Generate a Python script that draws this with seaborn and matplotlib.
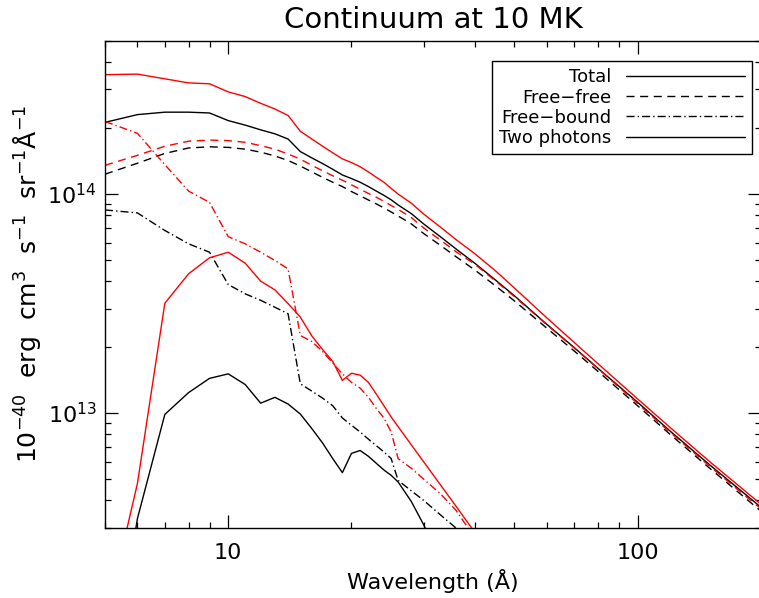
import matplotlib
matplotlib.use("Agg")
import matplotlib.pyplot as plt
import seaborn as sns
import pandas as pd
from matplotlib.lines import Line2D
from matplotlib.ticker import FixedLocator, FuncFormatter, LogLocator, NullFormatter

# ---------------- data (units of 1e13) ----------------
wl_all = [5, 6, 7, 8, 9, 10, 11, 12, 13, 14, 15, 16, 17, 18, 19, 20, 21, 22, 23, 24, 25, 26,
          28, 30, 33, 36, 40, 45, 50, 60, 70, 80, 100, 120, 150, 200]
wl_comp = [5, 6, 7, 8, 9, 10, 11, 12, 13, 14, 15, 16, 17, 18, 19, 20, 21, 22, 23, 24, 25, 26,
           28, 30, 33, 36, 40]

total_black = [21.2, 23.0, 23.6, 23.6, 23.4, 21.6, 20.6, 19.6, 18.8, 17.8, 15.6, 14.6, 13.75, 12.95,
               12.2, 11.75, 11.3, 10.8, 10.3, 9.85, 9.4, 8.9, 8.13, 7.3, 6.37, 5.61, 4.83, 4.04, 3.43,
               2.54, 1.99, 1.60, 1.12, 0.828, 0.58, 0.372]
total_red = [35.0, 35.2, 33.5, 32.1, 31.8, 29.2, 27.8, 25.9, 24.4, 22.8, 19.3, 17.8, 16.5, 15.4,
             14.45, 13.9, 13.3, 12.6, 11.9, 11.3, 10.6, 9.98, 9.07, 8.1, 7.05, 6.19, 5.34, 4.45, 3.72,
             2.72, 2.1, 1.68, 1.16, 0.86, 0.60, 0.384]
ff_black = [12.3, 13.8, 15.3, 16.2, 16.4, 16.3, 16.0, 15.5, 14.9, 14.2, 13.4, 12.6, 11.9, 11.3,
            10.8, 10.25, 9.8, 9.38, 9.0, 8.63, 8.27, 7.93, 7.3, 6.6, 5.82, 5.17, 4.5, 3.8, 3.25,
            2.44, 1.92, 1.55, 1.08, 0.80, 0.56, 0.357]
ff_red = [13.5, 15.0, 16.5, 17.4, 17.6, 17.5, 17.2, 16.6, 16.0, 15.2, 14.4, 13.5, 12.75, 12.1,
          11.55, 11.0, 10.5, 10.05, 9.65, 9.25, 8.85, 8.5, 7.8, 7.0, 6.15, 5.45, 4.78, 4.0, 3.4,
          2.53, 1.98, 1.595, 1.105, 0.818, 0.572, 0.366]
fb_black = [8.45, 8.19, 6.81, 5.92, 5.42, 3.86, 3.50, 3.27, 3.04, 2.84, 1.36, 1.26, 1.17, 1.08,
            0.95, 0.88, 0.82, 0.76, 0.71, 0.665, 0.62, 0.493, 0.442, 0.40, 0.343, 0.299, 0.25]
fb_red = [21.4, 18.9, 13.6, 10.3, 9.15, 6.38, 5.92, 5.42, 4.97, 4.55, 2.26, 2.12, 1.91, 1.69,
          1.51, 1.38, 1.30, 1.18, 1.05, 0.95, 0.82, 0.62, 0.56, 0.50, 0.428, 0.36, 0.27]
tp_black = [0.04, 0.33, 0.986, 1.24, 1.44, 1.51, 1.35, 1.11, 1.18, 1.10, 0.99, 0.85, 0.73, 0.62,
            0.535, 0.655, 0.675, 0.635, 0.59, 0.55, 0.52, 0.485, 0.395, 0.31, 0.21, 0.14, 0.08]
tp_red = [0.11, 0.477, 3.17, 4.32, 5.11, 5.42, 4.83, 4.0, 3.65, 3.16, 2.74, 2.25, 1.95, 1.72,
          1.41, 1.52, 1.49, 1.38, 1.22, 1.08, 0.96, 0.867, 0.716, 0.60, 0.47, 0.376, 0.286]
scale = 1e13

legend_labels = ["Total", "Free\u2212free", "Free\u2212bound", "Two photons"]
title = "Continuum at 10 MK"
xlabel = "Wavelength (Å)"
ylabel = r"10$^{-40}$  erg  cm$^3$  s$^{-1}$  sr$^{-1}$Å$^{-1}$"

# ---------------- style ----------------
sns.set_style("ticks")
plt.rcParams["font.family"] = ["DejaVu Sans"]
plt.rcParams["mathtext.fontset"] = "dejavusans"
plt.rcParams["axes.linewidth"] = 1.0
plt.rcParams["axes.edgecolor"] = "black"
plt.rcParams["axes.labelcolor"] = "black"
plt.rcParams["text.color"] = "black"
plt.rcParams["xtick.color"] = "black"
plt.rcParams["ytick.color"] = "black"
plt.rcParams["xtick.labelcolor"] = "black"
plt.rcParams["ytick.labelcolor"] = "black"

DASH = (0, (5.8, 4.0))
DASHDOT = (0, (5.8, 2.2, 1.0, 2.2))

fig = plt.figure(figsize=(7.59, 5.98), dpi=100)
ax = fig.add_axes([105 / 759, 1 - 527.7 / 598, 655.9 / 759, 487 / 598])

series = [
    (wl_all, total_black, "black", "-"),
    (wl_all, ff_black, "black", DASH),
    (wl_comp, fb_black, "black", DASHDOT),
    (wl_comp, tp_black, "black", "-"),
    (wl_all, total_red, "red", "-"),
    (wl_all, ff_red, "red", DASH),
    (wl_comp, fb_red, "red", DASHDOT),
    (wl_comp, tp_red, "red", "-"),
]
for xs, ys, col, ls in series:
    df = pd.DataFrame({"wl": xs, "val": [v * scale for v in ys]})
    sns.lineplot(data=df, x="wl", y="val", ax=ax, color=col, linestyle=ls,
                 linewidth=1.0, sort=False, estimator=None, legend=False)

ax.set_xscale("log")
ax.set_yscale("log")
ax.set_xlim(5, 200)
ax.set_ylim(3e12, 5e14)

ax.xaxis.set_major_locator(FixedLocator([10, 100]))
ax.xaxis.set_major_formatter(FuncFormatter(lambda v, p: f"{int(round(v))}"))
ax.xaxis.set_minor_locator(LogLocator(base=10, subs=range(2, 10), numticks=20))
ax.xaxis.set_minor_formatter(NullFormatter())
ax.yaxis.set_major_locator(LogLocator(base=10, numticks=10))
ax.yaxis.set_minor_locator(LogLocator(base=10, subs=range(2, 10), numticks=20))
ax.yaxis.set_minor_formatter(NullFormatter())

ax.tick_params(which="both", direction="in", top=True, right=True, width=0.9, labelsize=16)
ax.tick_params(which="major", length=9.4)
ax.tick_params(which="minor", length=4.3)
ax.tick_params(axis="x", which="major", pad=11)
ax.tick_params(axis="y", which="major", pad=6)

ax.set_title(title, fontsize=21, pad=9, color="black")
ax.set_xlabel(xlabel, fontsize=16, labelpad=4)
ax.set_ylabel(ylabel, fontsize=18, labelpad=3)

handles = [Line2D([], [], color="black", lw=1.0, ls="-"),
           Line2D([], [], color="black", lw=1.0, ls=DASH),
           Line2D([], [], color="black", lw=1.0, ls=DASHDOT),
           Line2D([], [], color="black", lw=1.0, ls="-")]
leg = ax.legend(handles, legend_labels, loc="upper right", bbox_to_anchor=(0.987, 0.958),
                borderaxespad=0, markerfirst=False, fontsize=13, handlelength=6.6,
                handletextpad=0.8, labelspacing=0.12, borderpad=0.4, fancybox=False,
                framealpha=1, edgecolor="black")
leg.get_frame().set_linewidth(1.0)

fig.savefig("out.png", dpi=100)
